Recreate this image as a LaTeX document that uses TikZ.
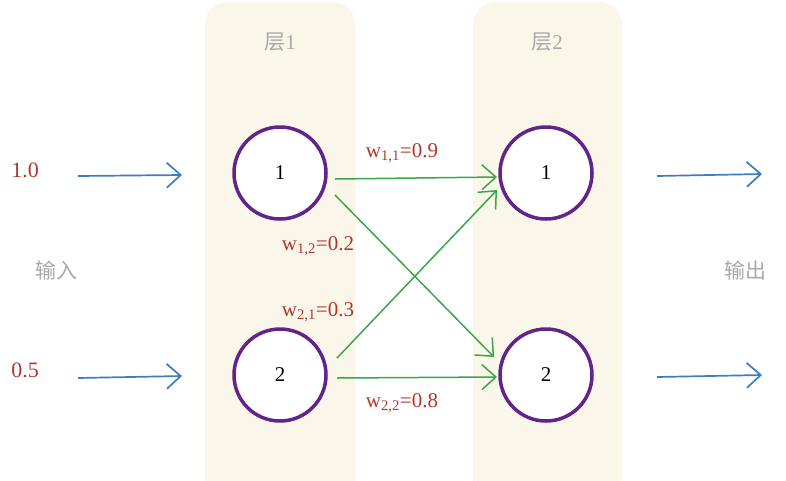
\documentclass[tikz,border=0pt]{standalone}
\usepackage{fontspec}
\setmainfont{Liberation Serif}
\newfontfamily\cjk{Noto Sans CJK SC}
\usetikzlibrary{arrows.meta}
\definecolor{colbg}{HTML}{FAF7EA}
\definecolor{nodepurple}{HTML}{62238A}
\definecolor{inblue}{HTML}{3A7EBF}
\definecolor{wgreen}{HTML}{3AA64A}
\definecolor{wred}{HTML}{B0372C}
\definecolor{lgray}{HTML}{A8A8A8}
\begin{document}
\begin{tikzpicture}[x=1pt,y=-1pt,
  column/.style={fill=colbg,draw=none,rounded corners=22pt},
  neuron/.style={circle,draw=nodepurple,line width=3.5pt,fill=white,minimum size=92pt,inner sep=0pt,font=\fontsize{21}{21}\selectfont},
  inarrow/.style={draw=inblue,line width=1.7pt,-{Straight Barb[length=14pt,width=25pt,line width=1.7pt]}},
  warrow/.style={draw=wgreen,line width=1.5pt,-{Straight Barb[length=14pt,width=25pt,line width=1.5pt]}},
  wlabel/.style={text=wred,font=\fontsize{21}{21}\selectfont,inner sep=0pt},
  vallabel/.style={text=wred,font=\fontsize{22}{22}\selectfont,inner sep=0pt},
  graylabel/.style={text=lgray,font=\cjk\fontsize{21}{21}\selectfont,inner sep=0pt}
]
\useasboundingbox (0,0) rectangle (786,480);
\path[column] (205,2) rectangle (355,520);
\path[column] (473,2) rectangle (622,520);
\node[graylabel] (l1) at (280,42) {层\fontspec{Liberation Serif}1};
\node[graylabel] (l2) at (547,42) {层\fontspec{Liberation Serif}2};

\node[neuron] (a1) at (280,173) {1};
\node[neuron] (a2) at (280,375) {2};
\node[neuron] (b1) at (546,173) {1};
\node[neuron] (b2) at (546,375) {2};

\node[vallabel] (v1) at (25,170) {1.0};
\node[vallabel] (v2) at (25,370) {0.5};
\node[graylabel] (inl) at (56,270) {输入};
\node[graylabel] (outl) at (745,270) {输出};

\coordinate (i1s) at (78,176);
\coordinate (i1e) at (182,175);
\coordinate (i2s) at (78,378);
\coordinate (i2e) at (182,376);
\coordinate (o1s) at (657,176);
\coordinate (o1e) at (762,174);
\coordinate (o2s) at (657,377);
\coordinate (o2e) at (762,375);
\draw[inarrow] (i1s) -- (i1e);
\draw[inarrow] (i2s) -- (i2e);
\draw[inarrow] (o1s) -- (o1e);
\draw[inarrow] (o2s) -- (o2e);

\coordinate (g1s) at (335,179);
\coordinate (g1e) at (497,177);
\coordinate (g2s) at (335,195);
\coordinate (g2e) at (494,357);
\coordinate (g3s) at (337,358);
\coordinate (g3e) at (497,190);
\coordinate (g4s) at (337,378);
\coordinate (g4e) at (497,377);
\draw[warrow] (g1s) -- (g1e);
\draw[warrow] (g2s) -- (g2e);
\draw[warrow] (g3s) -- (g3e);
\draw[warrow] (g4s) -- (g4e);

\node[wlabel] (w11) at (402,153) {w\textsubscript{1,1}=0.9};
\node[wlabel] (w12) at (318,246) {w\textsubscript{1,2}=0.2};
\node[wlabel] (w21) at (318,312) {w\textsubscript{2,1}=0.3};
\node[wlabel] (w22) at (402,403) {w\textsubscript{2,2}=0.8};
\end{tikzpicture}
\end{document}
